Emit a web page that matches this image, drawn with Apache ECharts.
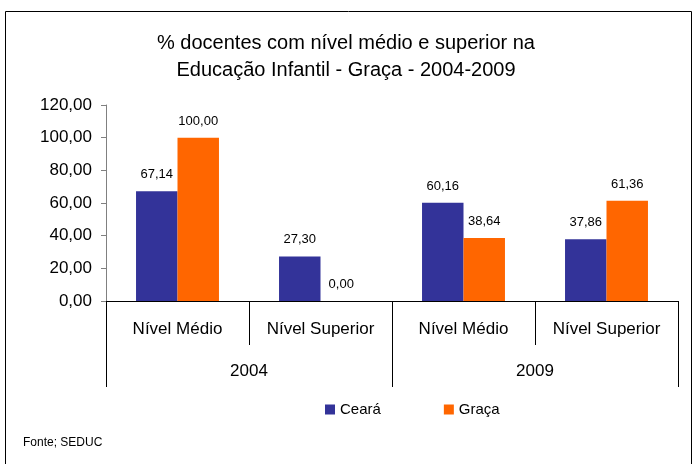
<!DOCTYPE html>
<html style="height: 100%">
<head>
  <meta charset="utf-8">
  <title>demo</title>
</head>
<body style="height: 100%; margin: 0; background: #fff">
<div id="container" style="height: 464px; width: 695px"></div>

<script type="text/javascript" src="https://cdn.jsdelivr.net/npm/echarts@6/dist/echarts.min.js"></script>
<script type="text/javascript">
  var levels = ['Nível Médio', 'Nível Superior', 'Nível Médio', 'Nível Superior'];
  var years = ['2004', '2009'];
  var ceara = [67.14, 27.30, 60.16, 37.86];
  var graca = [100.00, 0.00, 38.64, 61.36];
  var yTicks = [0, 120, 20];

  var dom = document.getElementById('container');
  var myChart = echarts.init(dom);
  var font = 'Liberation Sans, Arial, sans-serif';

  function fmt(v) {
    return v.toFixed(2).replace('.', ',');
  }

  var barLabel = {
    show: true,
    position: 'top',
    distance: 10,
    color: '#000',
    fontSize: 13,
    fontFamily: font,
    formatter: function (p) { return fmt(p.value); }
  };

  var option = {
    animation: false,
    textStyle: { fontFamily: font },
    graphic: [{
      type: 'rect',
      shape: { x: 5.5, y: 11.5, width: 686, height: 470 },
      style: { fill: 'none', stroke: '#000', lineWidth: 1 }
    }, {
      type: 'text',
      left: 23, top: 437,
      style: { text: 'Fonte; SEDUC', fontSize: 12, fontFamily: font, fill: '#000' }
    }],
    title: {
      text: '% docentes com nível médio e superior na\nEducação Infantil - Graça - 2004-2009',
      left: 341,
      textAlign: 'center',
      top: 25,
      textStyle: { fontSize: 20, fontWeight: 'normal', color: '#000', lineHeight: 27, fontFamily: font }
    },
    legend: {
      left: 320,
      top: 397,
      icon: 'rect',
      itemWidth: 10,
      itemHeight: 10,
      itemGap: 63,
      textStyle: { fontSize: 15, color: '#000', fontFamily: font },
      data: ['Ceará', 'Graça']
    },
    grid: { left: 106, right: 17, top: 105, bottom: 163, containLabel: false },
    xAxis: [{
      type: 'category',
      data: levels,
      axisLine: { show: true, lineStyle: { color: '#000' } },
      axisTick: { show: true, interval: 0, length: 44, lineStyle: { color: '#000' } },
      axisLabel: { margin: 20, fontSize: 17, color: '#000', fontFamily: font, interval: 0 }
    }, {
      type: 'category',
      position: 'bottom',
      data: years,
      axisLine: { show: false },
      axisTick: { show: true, interval: 0, length: 86, lineStyle: { color: '#000' } },
      axisLabel: { margin: 62, fontSize: 17, color: '#000', fontFamily: font }
    }],
    yAxis: {
      type: 'value',
      min: yTicks[0],
      max: yTicks[1],
      interval: yTicks[2],
      axisLine: { show: true, lineStyle: { color: '#808080' } },
      axisTick: { show: true, length: 5, lineStyle: { color: '#808080' } },
      splitLine: { show: false },
      axisLabel: { margin: 14, fontSize: 17, color: '#000', fontFamily: font, formatter: function (v) { return fmt(v); } }
    },
    series: [{
      name: 'Ceará',
      type: 'bar',
      data: ceara,
      barGap: 0,
      barCategoryGap: '42%',
      itemStyle: { color: '#333399' },
      label: barLabel
    }, {
      name: 'Graça',
      type: 'bar',
      data: graca,
      itemStyle: { color: '#FF6600' },
      label: barLabel
    }]
  };

  myChart.setOption(option);
</script>
</body>
</html>
